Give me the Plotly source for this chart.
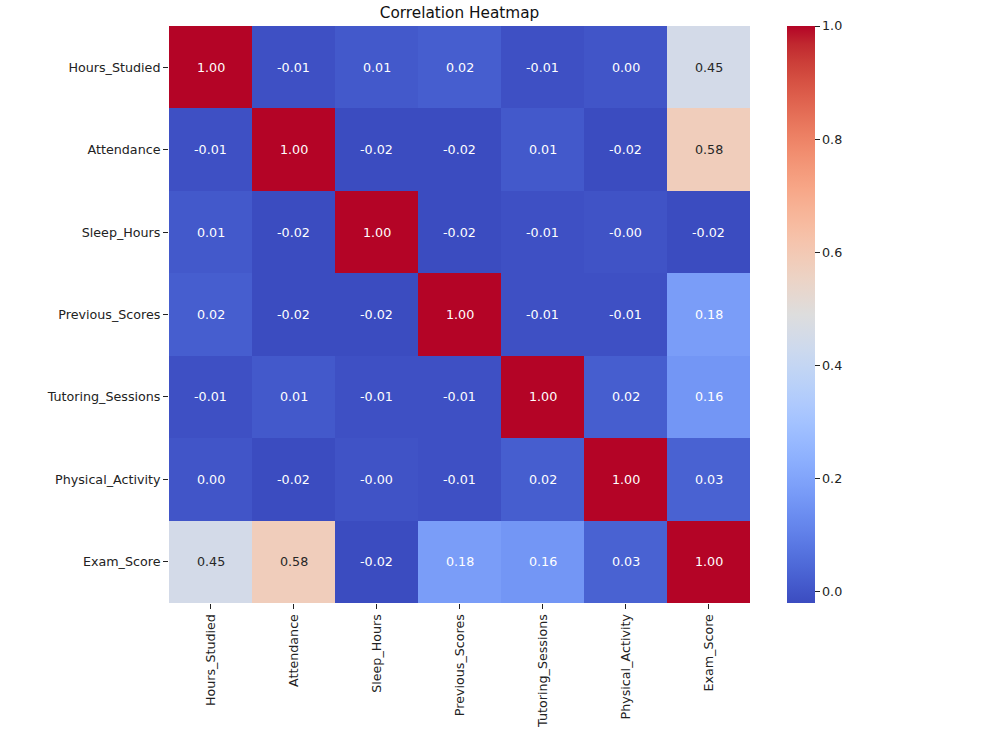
import plotly.graph_objects as go

labels = ["Hours_Studied", "Attendance", "Sleep_Hours", "Previous_Scores",
          "Tutoring_Sessions", "Physical_Activity", "Exam_Score"]

row_hours = [1.00, -0.01, 0.01, 0.02, -0.01, 0.00, 0.45]
row_attend = [-0.01, 1.00, -0.02, -0.02, 0.01, -0.02, 0.58]
row_sleep = [0.01, -0.02, 1.00, -0.02, -0.01, -0.004, -0.02]
row_prev = [0.02, -0.02, -0.02, 1.00, -0.01, -0.01, 0.18]
row_tutor = [-0.01, 0.01, -0.01, -0.01, 1.00, 0.02, 0.16]
row_phys = [0.00, -0.02, -0.004, -0.01, 0.02, 1.00, 0.03]
row_exam = [0.45, 0.58, -0.02, 0.18, 0.16, 0.03, 1.00]

z = [row_hours, row_attend, row_sleep, row_prev, row_tutor, row_phys, row_exam]

cbar_ticks = [0.0, 0.2, 0.4, 0.6, 0.8, 1.0]

coolwarm_rgb = [
    (59, 76, 192), (68, 90, 204), (77, 104, 215), (87, 117, 225), (98, 130, 234),
    (108, 142, 241), (119, 154, 247), (130, 165, 251), (141, 176, 254), (152, 185, 255),
    (163, 194, 255), (174, 201, 253), (184, 208, 249), (194, 213, 244), (204, 217, 238),
    (213, 219, 230), (221, 221, 221), (229, 216, 209), (236, 211, 197), (241, 204, 185),
    (245, 196, 173), (247, 187, 160), (247, 177, 148), (247, 166, 135), (244, 154, 123),
    (241, 141, 111), (236, 127, 99), (229, 112, 88), (222, 96, 77), (213, 80, 66),
    (203, 62, 56), (192, 40, 47), (180, 4, 38),
]
n = len(coolwarm_rgb)
colorscale = [[i / (n - 1), f"rgb{c}"] for i, c in enumerate(coolwarm_rgb)]

zmin = min(min(r) for r in z)
zmax = max(max(r) for r in z)

FONT = "DejaVu Sans"

fig = go.Figure(go.Heatmap(
    z=z, x=labels, y=labels,
    colorscale=colorscale, zmin=zmin, zmax=zmax,
    xgap=0, ygap=0,
    colorbar=dict(
        thickness=28, len=1, lenmode="fraction", y=0.5, yanchor="middle",
        x=1.0637, xanchor="left", xpad=0, ypad=0, outlinewidth=0,
        tickvals=cbar_ticks, ticktext=[f"{v:.1f}" for v in cbar_ticks],
        ticks="outside", ticklen=5, tickwidth=1, tickcolor="#222",
        tickfont=dict(family=FONT, size=12.7, color="#222"),
    ),
    hoverinfo="skip",
))

annotations = []
for i, rl in enumerate(labels):
    for j, cl in enumerate(labels):
        v = z[i][j]
        frac = (v - zmin) / (zmax - zmin)
        dark = 0.35 < frac < 0.7
        annotations.append(dict(
            x=cl, y=rl, text=f"{v:.2f}", showarrow=False,
            font=dict(family=FONT, size=12.7, color="#262626" if dark else "white"),
        ))

fig.update_layout(
    width=998, height=730,
    margin=dict(l=169, r=248, t=26, b=127, autoexpand=False),
    paper_bgcolor="white", plot_bgcolor="white",
    title=dict(text="Correlation Heatmap", x=(169 + 750) / 2 / 998, xanchor="center",
               xref="container",
               y=1 - 13 / 730, yanchor="middle", yref="container",
               font=dict(family=FONT, size=15.3, color="#111")),
    annotations=annotations,
    font=dict(family=FONT, color="#222"),
)
fig.update_xaxes(
    tickangle=-90, ticks="outside", ticklen=5, tickwidth=1, tickcolor="#222",
    tickfont=dict(family=FONT, size=12.7, color="#222"), automargin=False,
    showgrid=False, zeroline=False, showline=False,
)
fig.update_yaxes(
    autorange="reversed", ticks="outside", ticklen=5, tickwidth=1, tickcolor="#222",
    tickfont=dict(family=FONT, size=12.7, color="#222"), automargin=False,
    showgrid=False, zeroline=False, showline=False,
)

fig.write_html("out.html")
